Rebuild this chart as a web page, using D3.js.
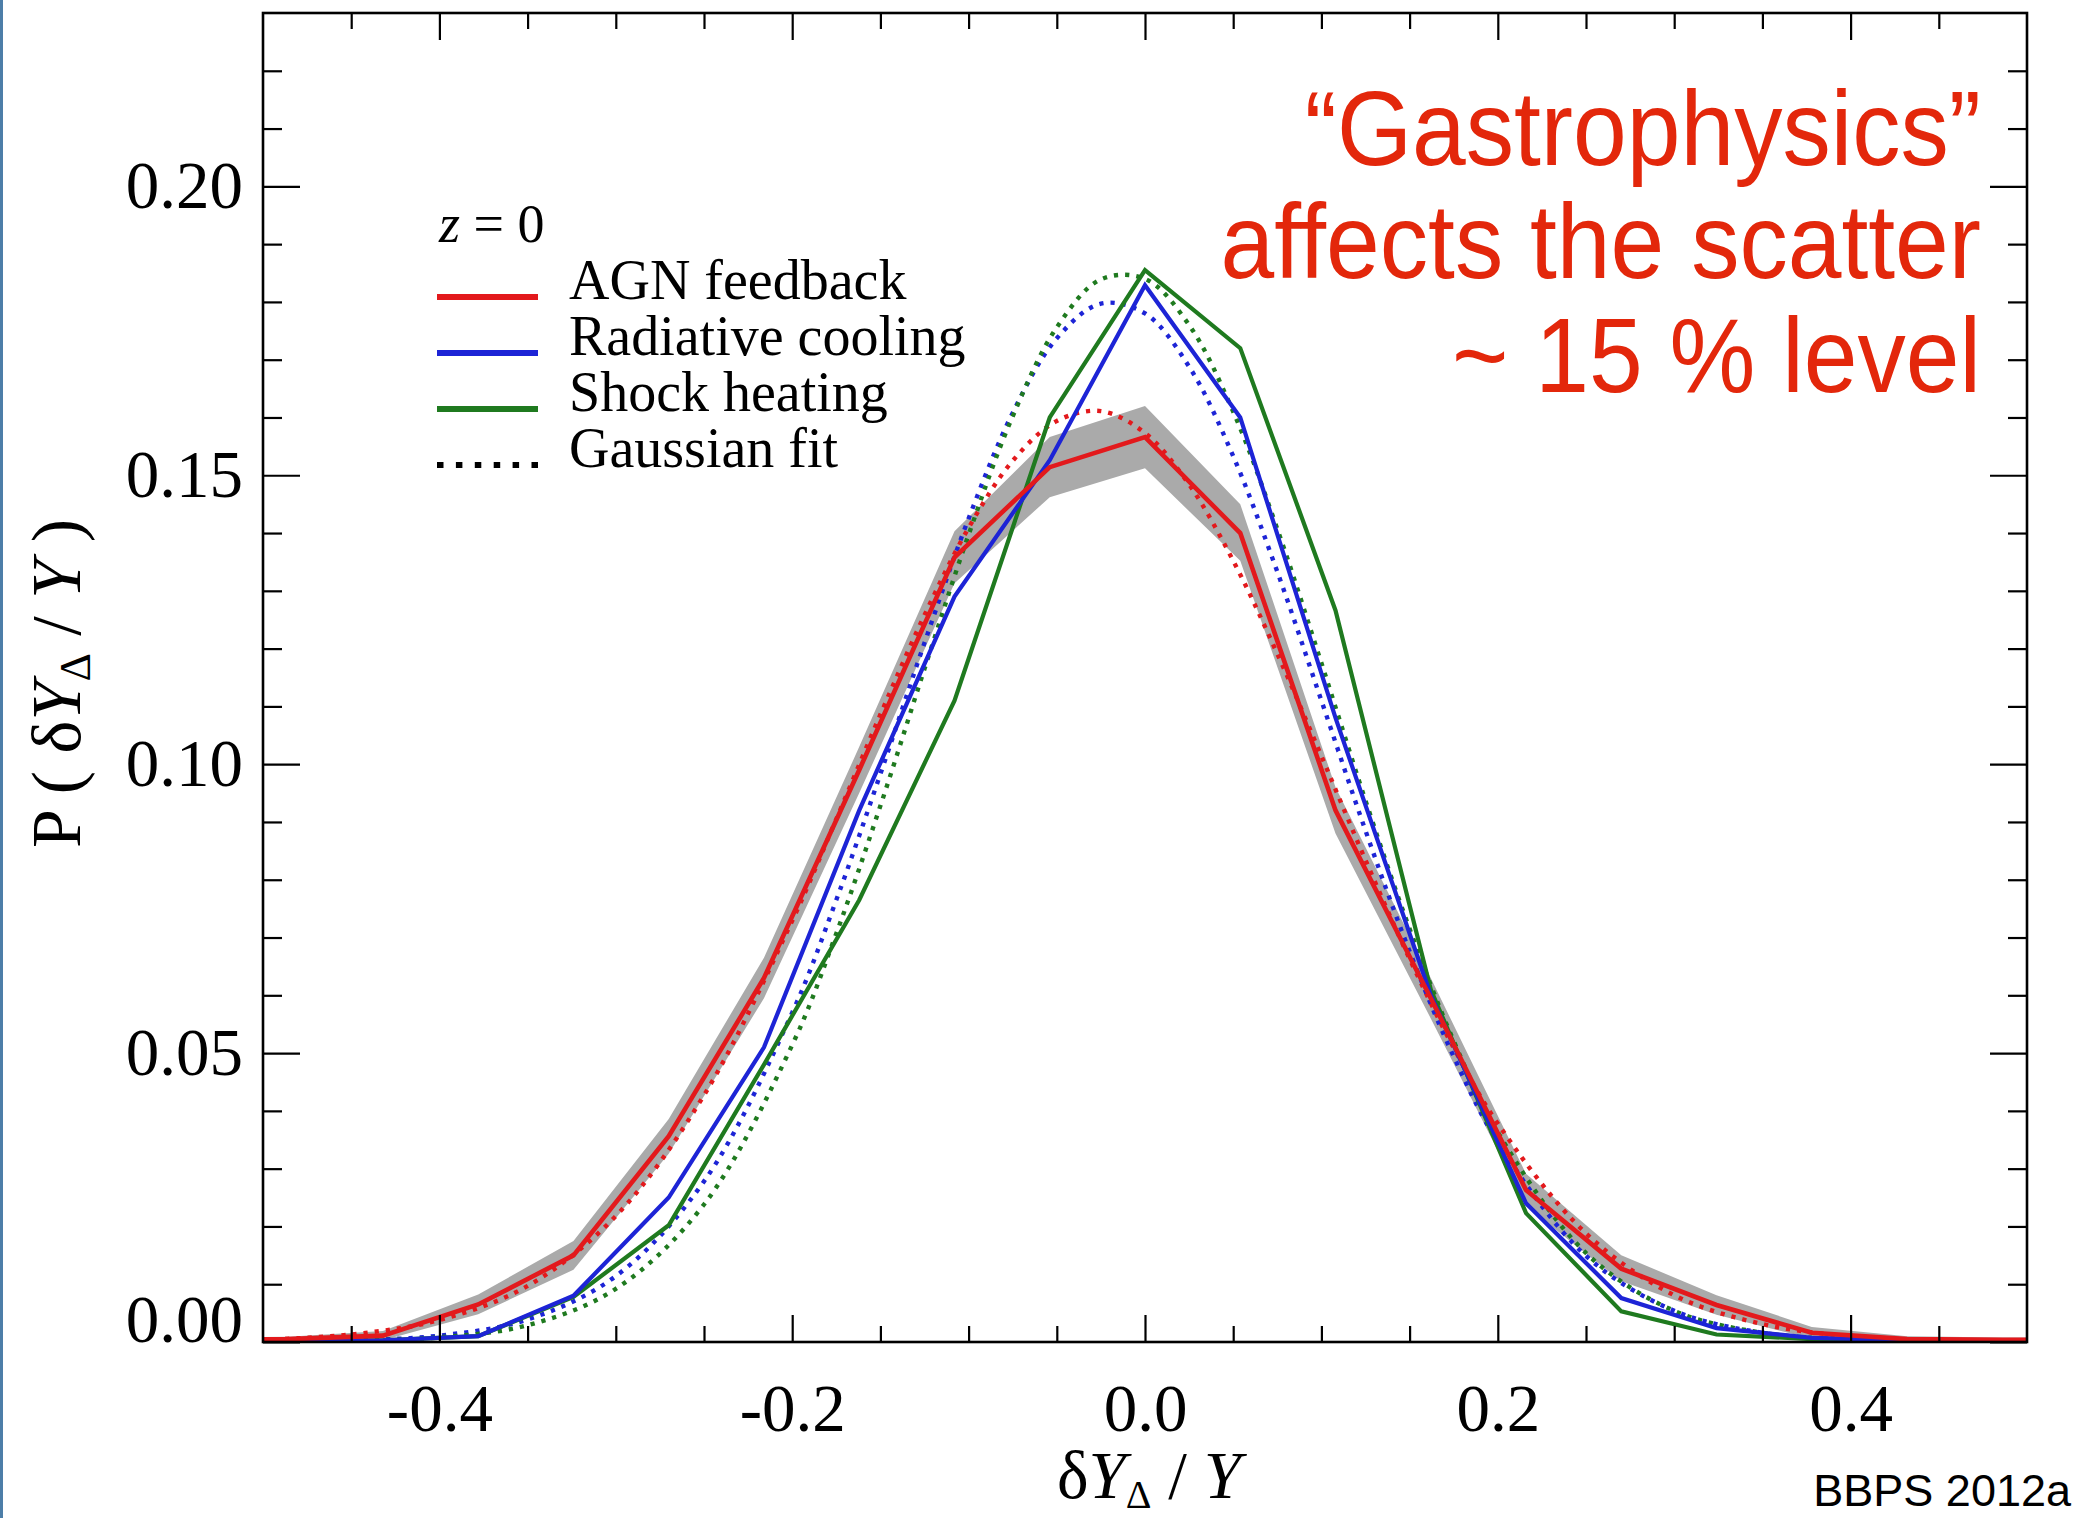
<!DOCTYPE html>
<html>
<head>
<meta charset="utf-8">
<script src="https://cdn.jsdelivr.net/npm/d3@7"></script>
<style>
	body { margin: 0; background: #fff; }
	svg { display: block; }
	text { white-space: pre; }
</style>
</head>
<body>
<svg id="visualisation" width="2081" height="1518"></svg>
<script>
// bin centres of the measured distributions
var binX = [-0.540, -0.486, -0.432, -0.378, -0.324, -0.270, -0.216, -0.162, -0.108, -0.054, 0.000,
	0.054, 0.108, 0.162, 0.216, 0.270, 0.324, 0.378, 0.432, 0.486, 0.540];

var agnY = [0.0004, 0.0005, 0.0011, 0.0065, 0.0150, 0.0356, 0.0630, 0.0990, 0.1358, 0.1514, 0.1566,
	0.1400, 0.0920, 0.0595, 0.0263, 0.0127, 0.0064, 0.0016, 0.0005, 0.0004, 0.0003];
var agnLow = [0.0001, 0.0001, 0.0003, 0.0048, 0.0125, 0.0326, 0.0595, 0.0950, 0.1313, 0.1462, 0.1512,
	0.1352, 0.0880, 0.0560, 0.0235, 0.0105, 0.0047, 0.0006, 0.0001, 0.0000, 0.0000];
var agnHigh = [0.0007, 0.0009, 0.0019, 0.0082, 0.0175, 0.0386, 0.0665, 0.1030, 0.1403, 0.1566, 0.1620,
	0.1450, 0.0960, 0.0630, 0.0291, 0.0150, 0.0081, 0.0026, 0.0010, 0.0008, 0.0007];
var radY = [0.0002, 0.0002, 0.0003, 0.0010, 0.0080, 0.0250, 0.0510, 0.0920, 0.1290, 0.1526, 0.1829,
	0.1600, 0.1080, 0.0600, 0.0240, 0.0076, 0.0024, 0.0007, 0.0003, 0.0002, 0.0002];
var shockY = [0.0002, 0.0002, 0.0003, 0.0010, 0.0078, 0.0202, 0.0480, 0.0765, 0.1110, 0.1600, 0.1855,
	0.1720, 0.1266, 0.0610, 0.0223, 0.0053, 0.0013, 0.0005, 0.0003, 0.0002, 0.0002];

// dotted gaussian fits
var fitX = [-0.50, -0.45, -0.40, -0.35, -0.30, -0.25, -0.20, -0.175, -0.15, -0.125, -0.10, -0.075, -0.05, -0.025,
	0.0, 0.025, 0.05, 0.075, 0.10, 0.125, 0.15, 0.175, 0.20, 0.25, 0.30, 0.35, 0.40, 0.45, 0.50];
var agnFit = [0.0004, 0.0013, 0.0038, 0.0097, 0.0218, 0.0427, 0.0729, 0.0905, 0.1086, 0.1258, 0.1409, 0.1525, 0.1594, 0.1611,
	0.1573, 0.1484, 0.1352, 0.1191, 0.1014, 0.0834, 0.0663, 0.0509, 0.0378, 0.0188, 0.0081, 0.0031, 0.0010, 0.0003, 0.0001];
var radFit = [0.0001, 0.0003, 0.0011, 0.0039, 0.0114, 0.0278, 0.0570, 0.0765, 0.0983, 0.1210, 0.1425, 0.1608, 0.1737, 0.1797,
	0.1780, 0.1688, 0.1533, 0.1333, 0.1110, 0.0885, 0.0676, 0.0494, 0.0346, 0.0149, 0.0054, 0.0016, 0.0004, 0.0001, 0.0000];
var shockFit = [0.0000, 0.0002, 0.0008, 0.0029, 0.0092, 0.0238, 0.0514, 0.0707, 0.0928, 0.1165, 0.1397, 0.1602, 0.1756, 0.1839,
	0.1840, 0.1760, 0.1610, 0.1407, 0.1175, 0.0937, 0.0715, 0.0521, 0.0363, 0.0154, 0.0054, 0.0016, 0.0004, 0.0001, 0.0000];

var xMajor = [-0.4, -0.2, 0.0, 0.2, 0.4];
var xMinor = [-0.45, -0.35, -0.3, -0.25, -0.15, -0.1, -0.05, 0.05, 0.1, 0.15, 0.25, 0.3, 0.35, 0.45];
var yMajor = [0.00, 0.05, 0.10, 0.15, 0.20];
var yMinor = [0.01, 0.02, 0.03, 0.04, 0.06, 0.07, 0.08, 0.09, 0.11, 0.12, 0.13, 0.14, 0.16, 0.17, 0.18, 0.19, 0.21, 0.22];

var legendNames = ["AGN feedback", "Radiative cooling", "Shock heating", "Gaussian fit"];
var noteLines = ["\u201cGastrophysics\u201d", "affects the scatter", "~ 15 % level"];

var RED = "#e3191c", BLUE = "#1d24d6", GREEN = "#1f7a1f";
var SERIF = "'Liberation Serif', 'Times New Roman', serif";
var SANS = "'Liberation Sans', Arial, Helvetica, sans-serif";

var vis = d3.select("#visualisation"),
	WIDTH = 2081,
	HEIGHT = 1518,
	MARGINS = {
		top: 13,
		right: 54,
		bottom: 176,
		left: 263
	},
	xScale = d3.scaleLinear()
		.range([MARGINS.left, WIDTH - MARGINS.right])
		.domain([-0.5, 0.5]),
	yScale = d3.scaleLinear()
		.range([HEIGHT - MARGINS.bottom, MARGINS.top])
		.domain([0, 0.23]);

var plotW = WIDTH - MARGINS.right - MARGINS.left,
	plotH = HEIGHT - MARGINS.bottom - MARGINS.top;

// slide edge on the left
vis.append("rect").attr("x", 0).attr("y", 0).attr("width", 3).attr("height", HEIGHT).attr("fill", "#4d7ea8");

vis.append("clipPath").attr("id", "plotclip")
	.append("rect")
	.attr("x", MARGINS.left).attr("y", MARGINS.top)
	.attr("width", plotW).attr("height", plotH);

var curves = vis.append("g").attr("clip-path", "url(#plotclip)");

var bandGen = d3.area()
	.x(function(d, i) { return xScale(binX[i]); })
	.y0(function(d, i) { return yScale(agnLow[i]); })
	.y1(function(d, i) { return yScale(agnHigh[i]); });

curves.append("path")
	.attr("d", bandGen(agnY))
	.attr("fill", "#aaaaaa");

var fitGen = d3.line()
	.curve(d3.curveCatmullRom)
	.x(function(d, i) { return xScale(fitX[i]); })
	.y(function(d) { return yScale(d); });

var lineGen = d3.line()
	.x(function(d, i) { return xScale(binX[i]); })
	.y(function(d) { return yScale(d); });

var fits = [agnFit, radFit, shockFit];
var sims = [agnY, radY, shockY];
var colors = [RED, BLUE, GREEN];

for (var i = 0; i < fits.length; i++) {
	curves.append("path")
		.attr("d", fitGen(fits[i]))
		.attr("stroke", colors[i])
		.attr("stroke-width", 4.4)
		.attr("stroke-dasharray", "4.2 7")
		.attr("fill", "none");
}

for (var i = sims.length - 1; i >= 0; i--) {
	curves.append("path")
		.attr("d", lineGen(sims[i]))
		.attr("stroke", colors[i])
		.attr("stroke-width", i === 0 ? 4.6 : 4.2)
		.attr("stroke-linejoin", "miter")
		.attr("fill", "none");
}

// axes: ticks on all four sides, labels only bottom and left
function tidy(g) {
	g.select(".domain").remove();
	g.selectAll("line").attr("stroke", "#000").attr("stroke-width", 2.2);
	g.attr("font-family", SERIF).attr("font-size", 67);
	g.selectAll("text").attr("fill", "#000");
}
var blank = function() { return ""; };

vis.append("g")
	.attr("transform", "translate(0," + yScale(0) + ")")
	.call(d3.axisBottom(xScale).tickValues(xMajor).tickSize(-27).tickPadding(41)
		.tickFormat(function(d) { return d.toFixed(1); }))
	.call(tidy);
vis.append("g")
	.attr("transform", "translate(0," + yScale(0) + ")")
	.call(d3.axisBottom(xScale).tickValues(xMinor).tickSize(-16).tickFormat(blank))
	.call(tidy);
vis.append("g")
	.attr("transform", "translate(0," + MARGINS.top + ")")
	.call(d3.axisTop(xScale).tickValues(xMajor).tickSize(-27).tickFormat(blank))
	.call(tidy);
vis.append("g")
	.attr("transform", "translate(0," + MARGINS.top + ")")
	.call(d3.axisTop(xScale).tickValues(xMinor).tickSize(-16).tickFormat(blank))
	.call(tidy);

var leftAxis = vis.append("g")
	.attr("transform", "translate(" + MARGINS.left + ",0)")
	.call(d3.axisLeft(yScale).tickValues(yMajor).tickSize(-37).tickPadding(20)
		.tickFormat(function(d) { return d.toFixed(2); }))
	.call(tidy);
// the 0.00 label sits above the corner
leftAxis.selectAll("text").filter(function(d) { return d === 0; }).attr("y", -22);

vis.append("g")
	.attr("transform", "translate(" + MARGINS.left + ",0)")
	.call(d3.axisLeft(yScale).tickValues(yMinor).tickSize(-19).tickFormat(blank))
	.call(tidy);
vis.append("g")
	.attr("transform", "translate(" + (WIDTH - MARGINS.right) + ",0)")
	.call(d3.axisRight(yScale).tickValues(yMajor).tickSize(-37).tickFormat(blank))
	.call(tidy);
vis.append("g")
	.attr("transform", "translate(" + (WIDTH - MARGINS.right) + ",0)")
	.call(d3.axisRight(yScale).tickValues(yMinor).tickSize(-19).tickFormat(blank))
	.call(tidy);

vis.append("rect")
	.attr("x", MARGINS.left).attr("y", MARGINS.top)
	.attr("width", plotW).attr("height", plotH)
	.attr("fill", "none")
	.attr("stroke", "#000")
	.attr("stroke-width", 2.6);

// axis titles
var xLab = vis.append("text")
	.attr("x", xScale(0) + 4)
	.attr("y", 1498)
	.attr("text-anchor", "middle")
	.attr("font-family", SERIF)
	.attr("font-size", 67)
	.attr("fill", "#000");
xLab.append("tspan").text("\u03b4");
xLab.append("tspan").attr("font-style", "italic").text("Y");
xLab.append("tspan").attr("font-size", 40).attr("dy", 10).text("\u0394");
xLab.append("tspan").attr("dy", -10).text(" / ");
xLab.append("tspan").attr("font-style", "italic").text("Y");

var yLab = vis.append("text")
	.attr("transform", "translate(80," + ((MARGINS.top + HEIGHT - MARGINS.bottom) / 2 + 6) + ") rotate(-90)")
	.attr("text-anchor", "middle")
	.attr("font-family", SERIF)
	.attr("font-size", 70)
	.attr("fill", "#000");
yLab.append("tspan").text("P ( \u03b4");
yLab.append("tspan").attr("font-style", "italic").text("Y");
yLab.append("tspan").attr("font-size", 44).attr("dy", 10).text("\u0394");
yLab.append("tspan").attr("dy", -10).text(" / ");
yLab.append("tspan").attr("font-style", "italic").text("Y");
yLab.append("tspan").text(" )");

// legend
var legend = vis.append("g")
	.attr("transform", "translate(437,242)")
	.attr("font-family", SERIF)
	.attr("fill", "#000");

var zt = legend.append("text").attr("x", 2).attr("y", 0).attr("font-size", 54);
zt.append("tspan").attr("font-style", "italic").text("z");
zt.append("tspan").text(" = 0");

var legendColors = [RED, BLUE, GREEN, "#000"];
legendNames.forEach(function(name, i) {
	var base = 57 + i * 56;
	var ln = legend.append("line")
		.attr("x1", 0).attr("x2", 101)
		.attr("y1", base - 2).attr("y2", base - 2)
		.attr("stroke", legendColors[i])
		.attr("stroke-width", 6);
	if (i === 3) ln.attr("stroke-dasharray", "6.5 12.4");
	legend.append("text")
		.attr("x", 132)
		.attr("y", base)
		.attr("font-size", 56)
		.text(name);
});

// red annotation, a little condensed like the slide font
var noteScale = 0.92;
var note = vis.append("text")
	.attr("transform", "scale(" + noteScale + ",1)")
	.attr("text-anchor", "end")
	.attr("font-family", SANS)
	.attr("font-size", 105)
	.attr("fill", "#e3270b");
noteLines.forEach(function(t, i) {
	note.append("tspan").attr("x", 1981 / noteScale).attr("y", 165 + i * 113.5).text(t);
});

vis.append("text")
	.attr("x", 2071)
	.attr("y", 1506)
	.attr("text-anchor", "end")
	.attr("font-family", SANS)
	.attr("font-size", 45)
	.attr("fill", "#000")
	.text("BBPS 2012a");
</script>
</body>
</html>
